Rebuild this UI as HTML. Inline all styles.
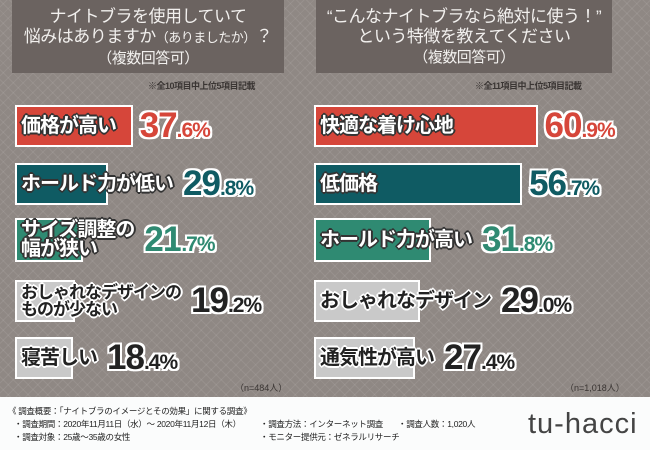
<!DOCTYPE html>
<html><head><meta charset="utf-8">
<style>
*{margin:0;padding:0;box-sizing:border-box}
body{width:650px;height:450px;overflow:hidden;font-family:"Liberation Sans","Noto Sans CJK JP",sans-serif;position:relative;background:#fbfcfc}
#bg{position:absolute;left:0;top:0;width:650px;height:397px;background:#8f8884;
background-image:repeating-linear-gradient(45deg,rgba(255,255,255,.07) 0 1px,transparent 1px 7px),repeating-linear-gradient(-45deg,rgba(255,255,255,.07) 0 1px,transparent 1px 7px)}
.hdr{position:absolute;top:0;height:73px;background:#6b6360;color:#f2f0ee;text-align:center;font-size:17px;line-height:20px;padding-top:7px;letter-spacing:-0.5px;white-space:nowrap}
.hdr .s{font-size:15px}
.hdr .t{font-size:13px}
.note{position:absolute;top:79px;font-size:9px;color:#3a3533;font-weight:bold;letter-spacing:-0.5px}
.row{position:absolute;display:flex;align-items:center}
.lab{position:relative;padding-left:6px;padding-right:3px;font-size:20px;font-weight:bold;line-height:19px;white-space:nowrap;display:flex;align-items:center;letter-spacing:-1px}
.lab.sm{font-size:17px;line-height:17px}
.bar{position:absolute;left:0;top:0;bottom:0;border:2px solid #fff}
.lab span{position:relative}
.w{color:#fff;text-shadow:-2px 0 #333,2px 0 #333,0 -2px #333,0 2px #333,-1px -1px #333,1px 1px #333,-1px 1px #333,1px -1px #333}
.d{color:#222;text-shadow:-2px 0 #fff,2px 0 #fff,0 -2px #fff,0 2px #fff,-1px -1px #fff,1px 1px #fff,-1px 1px #fff,1px -1px #fff}
.pct{margin-left:7px;font-weight:bold;white-space:nowrap;letter-spacing:-1px;text-shadow:-2px 0 #fff,2px 0 #fff,0 -2px #fff,0 2px #fff,-2px -2px #fff,2px 2px #fff,-2px 2px #fff,2px -2px #fff}
.pct .a{font-size:35px}.pct .b{font-size:21px}
.n{position:absolute;top:381px;font-size:9px;color:#3a3533}
.ft{position:absolute;font-size:8.5px;color:#222;white-space:nowrap;letter-spacing:-0.3px}
</style></head><body>
<div id="bg"></div>
<div class="hdr" style="left:12px;width:272px">ナイトブラを使用していて<br>悩みはありますか<span class="t">（ありましたか）</span>？<br><span class="s">（複数回答可）</span></div>
<div class="hdr" style="left:316px;width:296px">“こんなナイトブラなら絶対に使う！”<br>という特徴を教えてください<br><span class="s">（複数回答可）</span></div>
<div class="note" style="left:148px">※全10項目中上位5項目記載</div>
<div class="note" style="left:475px">※全11項目中上位5項目記載</div>
<div class="n" style="left:235px">（n=484人）</div>
<div class="n" style="left:565px">（n=1,018人）</div>
<div id="charts"></div>
<div class="ft" style="left:8px;top:405px">《 調査概要：「ナイトブラのイメージとその効果」に関する調査》</div>
<div class="ft" style="left:14px;top:418px">・調査期間：2020年11月11日（水）～ 2020年11月12日（木）</div>
<div class="ft" style="left:14px;top:431px">・調査対象：25歳～35歳の女性</div>
<div class="ft" style="left:260px;top:418px">・調査方法：インターネット調査</div>
<div class="ft" style="left:260px;top:431px">・モニター提供元：ゼネラルリサーチ</div>
<div class="ft" style="left:398px;top:418px">・調査人数：1,020人</div>
<div style="position:absolute;left:528px;top:408px;font-family:'Liberation Sans',sans-serif;font-size:29px;color:#444;letter-spacing:1px">tu-hacci</div>
<script>
const leftLabels=["価格が高い","ホールド力が低い","サイズ調整の<br>幅が狭い","おしゃれなデザインの<br>ものが少ない","寝苦しい"];
const leftValues=[37.6,29.8,21.7,19.2,18.4];
const rightLabels=["快適な着け心地","低価格","ホールド力が高い","おしゃれなデザイン","通気性が高い"];
const rightValues=[60.9,56.7,31.8,29.0,27.4];
const colors=["#d6463a","#0f5b63","#2f8a72","#c9c9c9","#c9c9c9"];
const rowTops=[105,163,218,280,337];
const rowH=[42,42,44,42,42];
const root=document.getElementById('charts');
function draw(labels,values,x0,scale,side){
  labels.forEach((l,i)=>{
    const row=document.createElement('div');
    row.className='row';
    
    
    row.style.left=x0+'px';row.style.top=rowTops[i]+'px';row.style.height=rowH[i]+'px';
    const lab=document.createElement('div');
    lab.className='lab'+(i>=3&&l.indexOf('<br>')>=0?' sm':'');
    
    
    lab.style.minWidth=(values[i]*scale)+'px';lab.style.height=rowH[i]+'px';
    const bar=document.createElement('div');
    bar.className='bar';
    
    
    bar.style.width=(values[i]*scale)+'px';bar.style.background=colors[i];
    lab.appendChild(bar);
    const t=document.createElement('span');
    t.className=i<3?'w':'d';t.innerHTML=l;
    lab.appendChild(t);
    row.appendChild(lab);
    const p=document.createElement('div');
    p.className='pct';
    
    
    p.style.color=i<3?colors[i]:'#222';
    const parts=values[i].toFixed(1).split('.');
    p.innerHTML='<span class="a">'+parts[0]+'</span><span class="b">.'+parts[1]+'%</span>';
    row.appendChild(p);
    root.appendChild(row);
  });
}
draw(leftLabels,leftValues,15,3.13,'left');
draw(rightLabels,rightValues,314,3.67,'right');
</script>
</body></html>
